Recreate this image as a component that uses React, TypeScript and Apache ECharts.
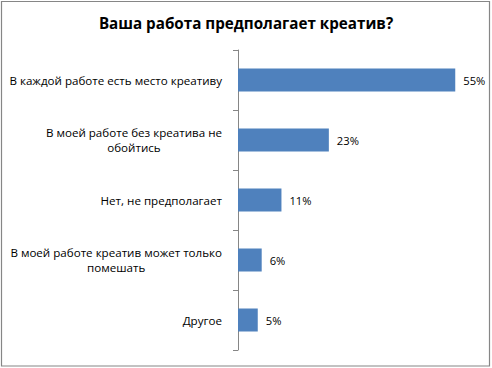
import React, { useEffect, useRef } from "react";
import * as echarts from "echarts";

const titleText = "Ваша работа предполагает креатив?";
const categories = [
  ["В каждой работе есть место креативу"],
  ["В моей работе без креатива не", "обойтись"],
  ["Нет, не предполагает"],
  ["В моей работе креатив может только", "помешать"],
  ["Другое"],
];
const values = [55, 23, 11, 6, 5];

export default function App() {
  const ref = useRef<HTMLDivElement>(null);
  useEffect(() => {
    document.body.style.margin = "0";
    const chart = echarts.init(ref.current!, null, { renderer: "svg" });
    const font = "'Open Sans', 'Liberation Sans', sans-serif";
    chart.setOption({
      animation: false,
      backgroundColor: "#ffffff",
      title: {
        text: titleText,
        left: "center",
        top: 10,
        textStyle: { fontFamily: font, fontSize: 15.2, fontWeight: "bold", color: "#000000" },
      },
      graphic: [
        {
          type: "rect",
          shape: { x: 1.5, y: 1.5, width: 488, height: 364.5 },
          style: { fill: "none", stroke: "#868686", lineWidth: 1.2 },
          silent: true,
        },
      ],
      grid: { left: 238, top: 50, width: 237, height: 300, containLabel: false },
      xAxis: {
        type: "value",
        min: 0,
        max: 60,
        show: false,
        splitLine: { show: false },
      },
      yAxis: {
        type: "category",
        inverse: true,
        data: categories.map((c) => c.join("\n")),
        axisLine: { show: true, lineStyle: { color: "#868686", width: 1 } },
        axisTick: { show: true, length: 5, lineStyle: { color: "#868686" } },
        axisLabel: {
          margin: 16,
          align: "right",
          fontFamily: font,
          fontSize: 11.6,
          color: "#000000",
          lineHeight: 15,
          formatter: (v: string) =>
            v
              .split("\n")
              .map((l) => "{c|" + l + "}")
              .join("\n"),
          rich: {
            c: { align: "center", fontFamily: font, fontSize: 11.6, color: "#000000", lineHeight: 15 },
          },
        },
      },
      series: [
        {
          type: "bar",
          data: values,
          barWidth: 23,
          itemStyle: { color: "#4F81BD" },
          label: {
            show: true,
            position: "right",
            distance: 8,
            formatter: "{c}%",
            fontFamily: font,
            fontSize: 11.2,
            color: "#000000",
          },
        },
      ],
    });
    return () => chart.dispose();
  }, []);
  return (
    <div
      ref={ref}
      style={{ position: "absolute", left: 0, top: 0, width: 492, height: 368 }}
    />
  );
}
